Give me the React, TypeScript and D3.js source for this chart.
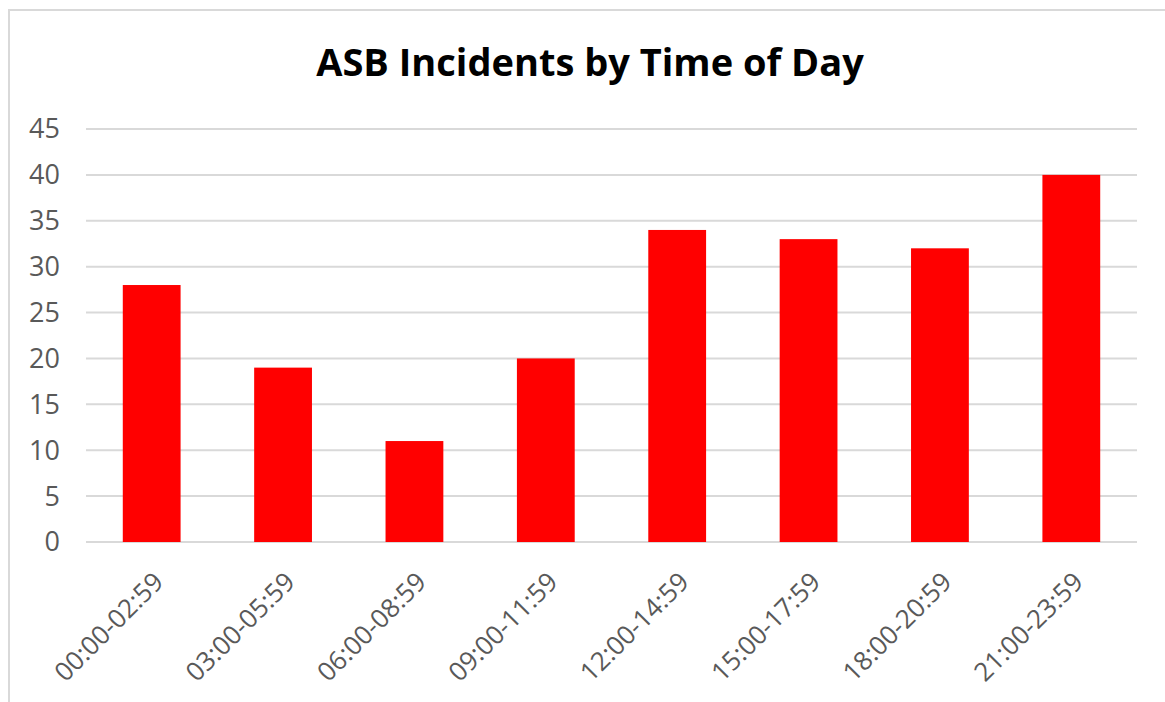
import React, { useEffect, useRef } from 'react';
import * as d3 from 'd3';

const timeBands = ['00:00-02:59', '03:00-05:59', '06:00-08:59', '09:00-11:59', '12:00-14:59', '15:00-17:59', '18:00-20:59', '21:00-23:59'];
const incidents = [28, 19, 11, 20, 34, 33, 32, 40];
const yTicks = [0, 5, 10, 15, 20, 25, 30, 35, 40, 45];

export default function App() {
  const svgRef = useRef<SVGSVGElement | null>(null);

  useEffect(() => {
    if (!svgRef.current) return;

    const width = 1165;
    const height = 702;

    d3.select(svgRef.current).selectAll('*').remove();

    const svg = d3.select(svgRef.current)
      .attr('width', width)
      .attr('height', height);

    // chart area border (only top/left visible in the crop)
    svg.append('rect')
      .attr('x', 9)
      .attr('y', 10)
      .attr('width', width + 20)
      .attr('height', height + 20)
      .attr('fill', '#fff')
      .attr('stroke', '#d9d9d9')
      .attr('stroke-width', 2);

    const x = d3.scaleBand<string>()
      .domain(timeBands)
      .range([86, 1137])
      .paddingInner(0.56)
      .paddingOuter(0.28);

    const y = d3.scaleLinear()
      .domain([0, 45])
      .range([542, 129]);

    svg.append('text')
      .attr('x', 590)
      .attr('y', 76)
      .attr('text-anchor', 'middle')
      .style('font-family', '"Open Sans", sans-serif')
      .style('font-weight', 'bold')
      .style('font-size', '38px')
      .style('fill', '#000')
      .text('ASB Incidents by Time of Day');

    svg.append('g')
      .selectAll('line')
      .data(yTicks)
      .enter()
      .append('line')
      .attr('x1', 86)
      .attr('x2', 1137)
      .attr('y1', d => y(d))
      .attr('y2', d => y(d))
      .attr('stroke', '#d9d9d9')
      .attr('stroke-width', 2);

    svg.append('g')
      .selectAll('text')
      .data(yTicks)
      .enter()
      .append('text')
      .attr('x', 60)
      .attr('y', d => y(d))
      .attr('dy', '0.35em')
      .attr('text-anchor', 'end')
      .style('font-family', '"Open Sans", sans-serif')
      .style('font-size', '27px')
      .style('fill', '#595959')
      .text(d => d);

    svg.append('g')
      .selectAll('rect')
      .data(incidents)
      .enter()
      .append('rect')
      .attr('x', (d, i) => x(timeBands[i]) as number)
      .attr('y', d => y(d))
      .attr('width', x.bandwidth())
      .attr('height', d => y(0) - y(d))
      .attr('fill', '#ff0000');

    svg.append('g')
      .selectAll('text')
      .data(timeBands)
      .enter()
      .append('text')
      .attr('transform', d => {
        const cx = (x(d) as number) + x.bandwidth() / 2 + 7;
        return `translate(${cx},577) rotate(-45)`;
      })
      .attr('dy', '0.35em')
      .attr('text-anchor', 'end')
      .style('font-family', '"Open Sans", sans-serif')
      .style('font-size', '26px')
      .style('fill', '#595959')
      .text(d => d);
  }, []);

  return (
    <svg ref={svgRef} style={{ position: 'absolute', left: 0, top: 0, display: 'block' }}></svg>
  );
}
